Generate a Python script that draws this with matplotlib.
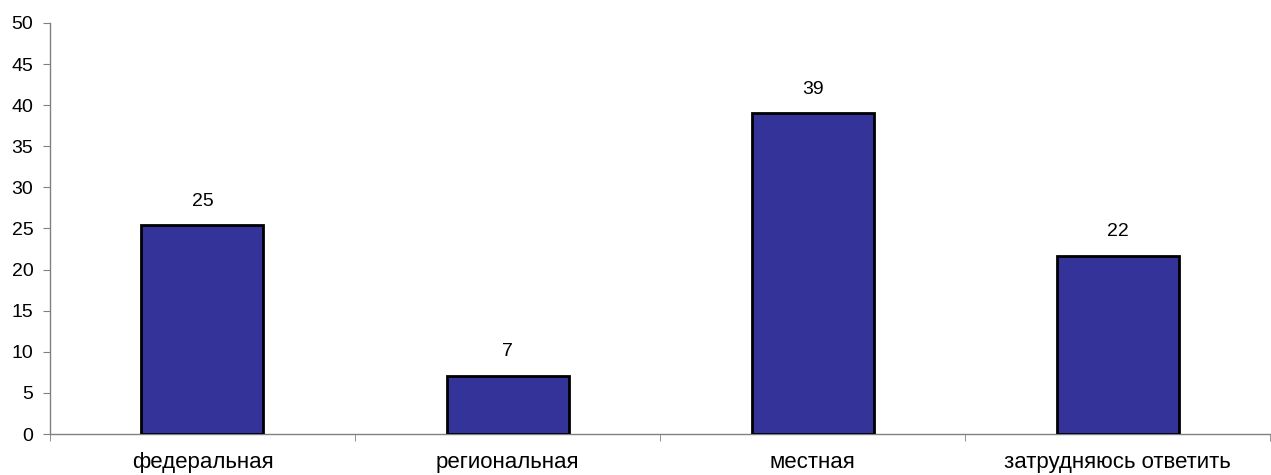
import matplotlib.pyplot as plt
from matplotlib.ticker import FixedLocator

categories = ['федеральная', 'региональная', 'местная', 'затрудняюсь ответить']
values = [25.4, 7.1, 39.0, 21.7]
yticks = [0, 5, 10, 15, 20, 25, 30, 35, 40, 45, 50]

plt.rcParams['font.family'] = ['Liberation Sans', 'DejaVu Sans']
plt.rcParams['font.size'] = 14

fig = plt.figure(figsize=(12.71, 4.75), dpi=100)
ax = fig.add_axes([0.0393, 0.0863, 0.96, 0.8653])

x = range(len(categories))
bars = ax.bar(x, values, width=0.4, color='#333399', edgecolor='black', linewidth=2, zorder=3)

for b, v in zip(bars, values):
    ax.annotate(f'{v:.0f}', (b.get_x() + b.get_width() / 2, v), xytext=(0, 11),
                textcoords='offset points', ha='center', va='bottom', fontsize=14)

ax.set_xlim(-0.5, len(categories) - 0.5)
ax.set_ylim(0, 50)
ax.set_yticks(yticks)
ax.set_xticks(list(x))
ax.set_xticklabels(categories, fontsize=16)
ax.xaxis.set_minor_locator(FixedLocator([i - 0.5 for i in range(len(categories) + 1)]))

ax.tick_params(axis='x', which='major', length=0, pad=13)
ax.tick_params(axis='x', which='minor', length=5, color='#808080', direction='out')
ax.tick_params(axis='y', length=5, color='#808080', pad=7, direction='out')

for s in ['top', 'right']:
    ax.spines[s].set_visible(False)
for s in ['left', 'bottom']:
    ax.spines[s].set_color('#808080')
    ax.spines[s].set_linewidth(1)

fig.savefig('out.png', dpi=100)
